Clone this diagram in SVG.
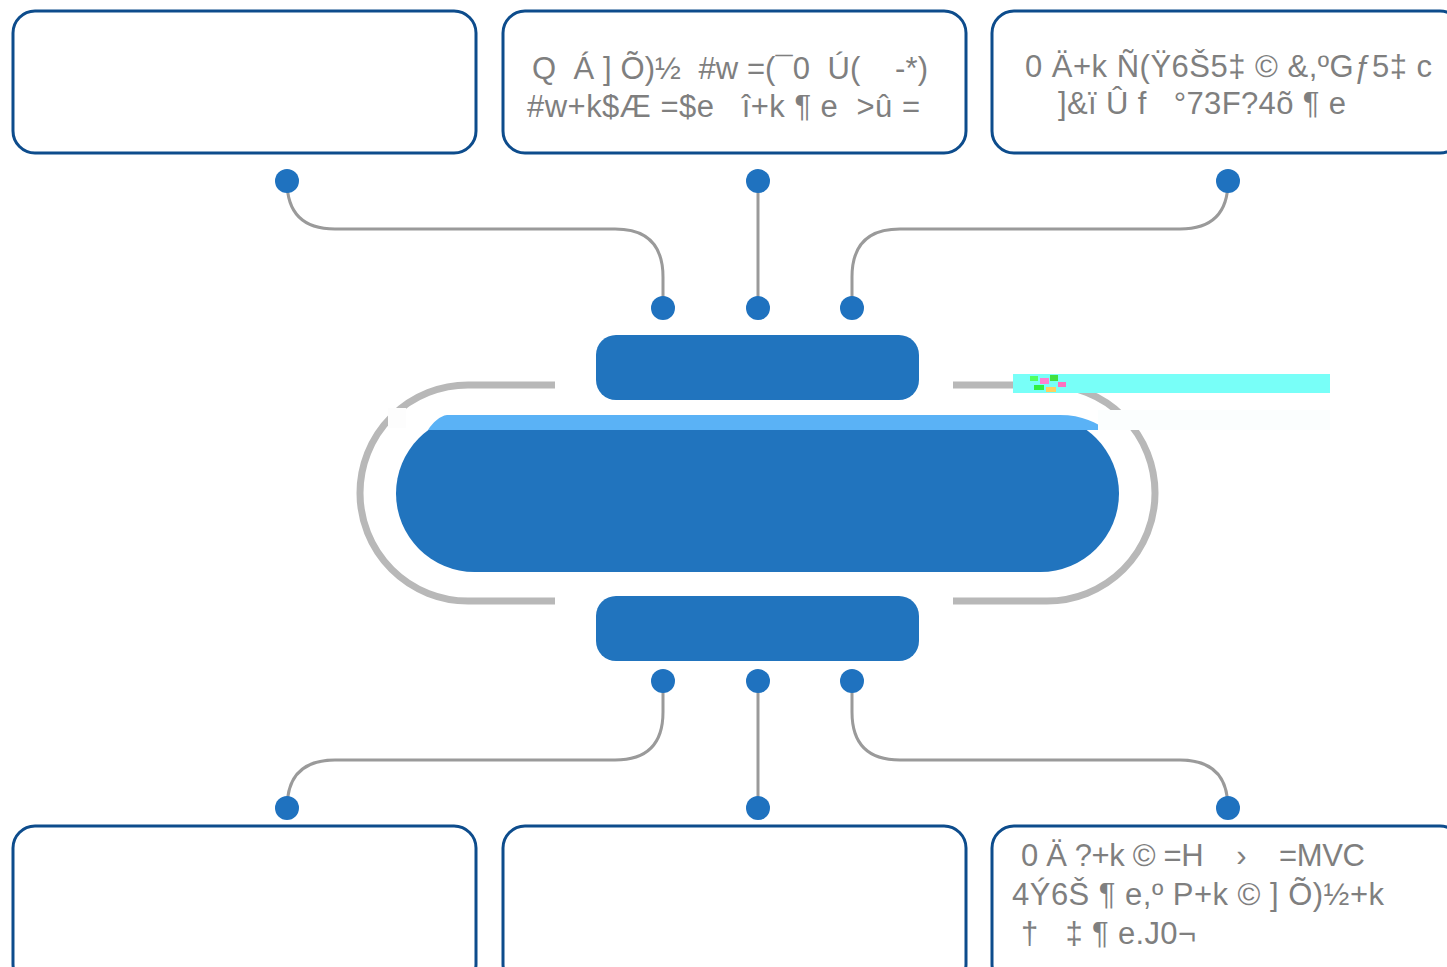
<svg xmlns="http://www.w3.org/2000/svg" width="1447" height="967" viewBox="0 0 1447 967">
<defs>
<style>
.box{fill:#fff;stroke:#0d4c8c;stroke-width:3}
.dot{fill:#1f72bf}
.con{fill:none;stroke:#9a9a9a;stroke-width:3}
.brk{fill:none;stroke:#b8b8b8;stroke-width:7}
.bar{fill:#2174be}
.t{font-family:"Liberation Sans",Arial,sans-serif;font-size:31px;fill:#7f7f7f;white-space:pre}
</style>
<clipPath id="below"><rect x="0" y="430" width="1447" height="300"/></clipPath>
</defs>
<rect width="1447" height="967" fill="#fff"/>

<g id="connectors">
<path class="con" d="M287,181 Q287,229 335,229 L615,229 Q663,229 663,277 L663,308"/>
<path class="con" d="M758,181 L758,308"/>
<path class="con" d="M1228,181 Q1228,229 1180,229 L900,229 Q852,229 852,277 L852,308"/>
<path class="con" d="M663,681 L663,712 Q663,760 615,760 L335,760 Q287,760 287,808"/>
<path class="con" d="M758,681 L758,808"/>
<path class="con" d="M852,681 L852,712 Q852,760 900,760 L1180,760 Q1228,760 1228,808"/>
</g>

<g id="bracket-left"><path class="brk" d="M555,385 L468,385 A108,108 0 0 0 360,493 A108,108 0 0 0 468,601 L555,601"/></g>
<g id="bracket-right"><path class="brk" d="M953,385 L1047,385 A108,108 0 0 1 1155,493 A108,108 0 0 1 1047,601 L953,601"/></g>

<g id="bar-top"><rect class="bar" x="596" y="335" width="323" height="65" rx="20"/></g>
<g id="bar-bottom"><rect class="bar" x="596" y="596" width="323" height="65" rx="20"/></g>

<g id="core">
<path fill="#5ab2f6" d="M447,415 L1060,415 C1082,415 1098,423 1106,430 L428,430 C433,422 440,416 447,415 Z"/>
<rect class="bar" x="396" y="415" width="723" height="157" rx="78.5" clip-path="url(#below)"/>
</g>

<g id="artifacts">
<rect x="1013" y="374" width="317" height="19" fill="#78fff8"/>
<rect x="1030" y="376" width="8" height="5" fill="#50ff60"/>
<rect x="1040" y="378" width="9" height="6" fill="#ff80d0"/>
<rect x="1050" y="375" width="8" height="6" fill="#40e040"/>
<rect x="1058" y="382" width="8" height="5" fill="#ff70c0"/>
<rect x="1034" y="385" width="10" height="5" fill="#30f040"/>
<rect x="1046" y="387" width="10" height="5" fill="#ffd060"/>
<rect x="1098" y="410" width="232" height="20" fill="#fbfefe"/>
<rect x="388" y="408" width="18" height="20" fill="#fdfdfd"/>
</g>

<g id="dots">
<circle class="dot" cx="287" cy="181" r="12"/>
<circle class="dot" cx="758" cy="181" r="12"/>
<circle class="dot" cx="1228" cy="181" r="12"/>
<circle class="dot" cx="663" cy="308" r="12"/>
<circle class="dot" cx="758" cy="308" r="12"/>
<circle class="dot" cx="852" cy="308" r="12"/>
<circle class="dot" cx="663" cy="681" r="12"/>
<circle class="dot" cx="758" cy="681" r="12"/>
<circle class="dot" cx="852" cy="681" r="12"/>
<circle class="dot" cx="287" cy="808" r="12"/>
<circle class="dot" cx="758" cy="808" r="12"/>
<circle class="dot" cx="1228" cy="808" r="12"/>
</g>

<g id="box-tl"><rect class="box" x="13" y="11" width="463" height="142" rx="22"/></g>
<g id="box-tc"><rect class="box" x="503" y="11" width="463" height="142" rx="22"/>
<text class="t" x="532" y="79" textLength="396" lengthAdjust="spacing">Q  Á ] Õ)½  #w =(¯0  Ú(    -*)</text>
<text class="t" x="527" y="117" textLength="393" lengthAdjust="spacing">#w+k$Æ =$e   î+k ¶ e  &gt;û =</text>
</g>
<g id="box-tr"><rect class="box" x="992" y="11" width="470" height="142" rx="22"/>
<text class="t" x="1025" y="77" textLength="407" lengthAdjust="spacing">0 Ä+k Ñ(Ÿ6Š5‡ © &amp;,ºGƒ5‡ c</text>
<text class="t" x="1058" y="114" textLength="288" lengthAdjust="spacing">]&amp;ï Û f   °73F?4õ ¶ e</text>
</g>
<g id="box-bl"><rect class="box" x="13" y="826" width="463" height="160" rx="22"/></g>
<g id="box-bc"><rect class="box" x="503" y="826" width="463" height="160" rx="22"/></g>
<g id="box-br"><rect class="box" x="992" y="826" width="470" height="160" rx="22"/>
<text class="t" x="1021" y="866" textLength="344" lengthAdjust="spacing">0 Ä ?+k © =H    ›    =MVC</text>
<text class="t" x="1012" y="905" textLength="372" lengthAdjust="spacing">4Ý6Š ¶ e,º P+k © ] Õ)½+k</text>
<text class="t" x="1021" y="944" textLength="175" lengthAdjust="spacing">†   ‡ ¶ e.J0¬</text>
</g>
</svg>
